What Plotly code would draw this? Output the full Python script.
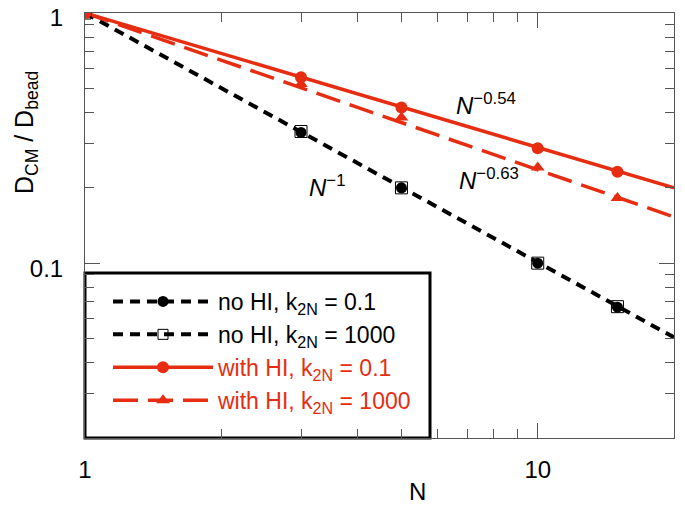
import plotly.graph_objects as go

# ---- data ----
N = [1, 3, 5, 10, 15]
noHI_k01 = [1.0, 0.333, 0.200, 0.100, 0.0667]
noHI_k1000 = [1.0, 0.336, 0.200, 0.100, 0.0670]
HI_k01 = [1.0, 0.553, 0.419, 0.288, 0.232]
HI_k1000 = [1.0, 0.520, 0.382, 0.241, 0.182]

fit_N = [1, 20]
fit_noHI = [1.0, 0.0505]
fit_HI_k01 = [1.0, 0.200]
fit_HI_k1000 = [1.0, 0.153]

legend_names = [
    "no HI, k<sub>2N</sub> = 0.1",
    "no HI, k<sub>2N</sub> = 1000",
    "with HI, k<sub>2N</sub> = 0.1",
    "with HI, k<sub>2N</sub> = 1000",
]
x_ticks = [1, 10]
x_ticklabels = ["1", "10"]
x_minor = [2, 3, 4, 5, 6, 7, 8, 9]
y_ticks = [0.1, 1]
y_ticklabels = ["0.1", "1"]
y_minor = [0.02, 0.03, 0.04, 0.05, 0.06, 0.07, 0.08, 0.09,
           0.2, 0.3, 0.4, 0.5, 0.6, 0.7, 0.8, 0.9]

RED = "rgb(230,45,18)"
BLACK = "black"
FONT = "Liberation Sans, Arial, sans-serif"

OFF = 8  # page body margin
W, H = 685 - OFF, 513 - OFF
L, T = 85 - OFF, 13 - OFF
PW, PH = 589, 425
R, B = W - L - PW, H - T - PH

def px_x(p):
    return (p - OFF - L) / PW

def px_y(p):
    return 1 - (p - OFF - T) / PH

black_dash = "10px,7px"
red_dash = "25px,10px"

fig = go.Figure()

# fit lines
fig.add_trace(go.Scatter(x=fit_N, y=fit_noHI, mode="lines", showlegend=False,
                         line=dict(color=BLACK, width=4, dash=black_dash)))
fig.add_trace(go.Scatter(x=fit_N, y=fit_HI_k01, mode="lines", showlegend=False,
                         line=dict(color=RED, width=3.5)))
fig.add_trace(go.Scatter(x=fit_N, y=fit_HI_k1000, mode="lines", showlegend=False,
                         line=dict(color=RED, width=3.5, dash=red_dash)))

# data markers
fig.add_trace(go.Scatter(x=N, y=noHI_k1000, mode="markers", showlegend=False,
                         marker=dict(symbol="square-open", size=12, color=BLACK,
                                     line=dict(width=1, color=BLACK))))
fig.add_trace(go.Scatter(x=N, y=noHI_k01, mode="markers", showlegend=False,
                         marker=dict(symbol="circle", size=11, color=BLACK)))
fig.add_trace(go.Scatter(x=N, y=HI_k01, mode="markers", showlegend=False,
                         marker=dict(symbol="circle", size=12, color=RED)))
fig.add_trace(go.Scatter(x=N, y=HI_k1000, mode="markers", showlegend=False,
                         marker=dict(symbol="triangle-up", size=12, color=RED)))

# legend-only entries
styles = [
    (dict(color=BLACK, width=4, dash=black_dash), dict(symbol="circle", size=11, color=BLACK), BLACK),
    (dict(color=BLACK, width=4, dash=black_dash), dict(symbol="square-open", size=10, color=BLACK, line=dict(width=1, color=BLACK)), BLACK),
    (dict(color=RED, width=3.5), dict(symbol="circle", size=12, color=RED), RED),
    (dict(color=RED, width=3.5, dash=red_dash), dict(symbol="triangle-up", size=12, color=RED), RED),
]
for name, (ln, mk, col) in zip(legend_names, styles):
    fig.add_trace(go.Scatter(x=[None], y=[None], mode="lines+markers",
                             name=f"<span style='color:{col}'>{name}</span>",
                             line=ln, marker=mk))

axis_common = dict(
    type="log", showgrid=False, zeroline=False, automargin=False,
    ticklabeloverflow="allow",
    showline=True, linecolor="#555", linewidth=1, mirror="ticks",
    ticks="inside", ticklen=15, tickcolor="#555", tickwidth=1,
    tickfont=dict(family=FONT, size=24, color="black"),
)

fig.update_xaxes(**axis_common, range=[0, 1.30103], tickmode="array", tickvals=x_ticks,
                 ticktext=x_ticklabels, ticklabelstandoff=10,
                 minor=dict(ticks="inside", ticklen=9, tickcolor="#555", tickwidth=1,
                            showgrid=False, tickmode="array", tickvals=x_minor))
fig.update_yaxes(**axis_common, range=[-1.69897, 0], tickmode="array", tickvals=y_ticks,
                 ticktext=y_ticklabels, ticklabelstandoff=16, ticklabelshift=5,
                 minor=dict(ticks="inside", ticklen=9, tickcolor="#555", tickwidth=1,
                            showgrid=False, tickmode="array", tickvals=y_minor))

fig.update_layout(
    width=W, height=H,
    margin=dict(l=L, r=R, t=T, b=B, autoexpand=False),
    paper_bgcolor="white", plot_bgcolor="white",
    font=dict(family=FONT, size=22, color="black"),
    showlegend=True,
    legend=dict(x=px_x(108), y=px_y(280), xanchor="left", yanchor="top",
                bgcolor="rgba(0,0,0,0)", borderwidth=0, itemwidth=100,
                tracegroupgap=0, font=dict(family=FONT, size=23)),
    shapes=[dict(type="rect", xref="paper", yref="paper", layer="below",
                 x0=px_x(85), x1=px_x(430), y0=px_y(438), y1=px_y(273),
                 line=dict(color="black", width=3), fillcolor="white")],
    annotations=[
        dict(text="<i>N</i><sup>−0.54</sup>", x=px_x(454), y=px_y(104), xref="paper", yref="paper",
             xanchor="left", yanchor="middle", showarrow=False, font=dict(size=24, family=FONT)),
        dict(text="<i>N</i><sup>−0.63</sup>", x=px_x(457), y=px_y(179), xref="paper", yref="paper",
             xanchor="left", yanchor="middle", showarrow=False, font=dict(size=24, family=FONT)),
        dict(text="<i>N</i><sup>−1</sup>", x=px_x(307), y=px_y(186), xref="paper", yref="paper",
             xanchor="left", yanchor="middle", showarrow=False, font=dict(size=24, family=FONT)),
        dict(text="N", x=px_x(417), y=px_y(492), xref="paper", yref="paper",
             xanchor="center", yanchor="middle", showarrow=False, font=dict(size=24, family=FONT)),
        dict(text="D<sub>CM</sub> / D<sub>bead</sub>", x=px_x(26), y=px_y(133), xref="paper", yref="paper",
             xanchor="center", yanchor="middle", textangle=-90, showarrow=False,
             font=dict(size=25, family=FONT)),
    ],
)

fig.write_html("out.html")
